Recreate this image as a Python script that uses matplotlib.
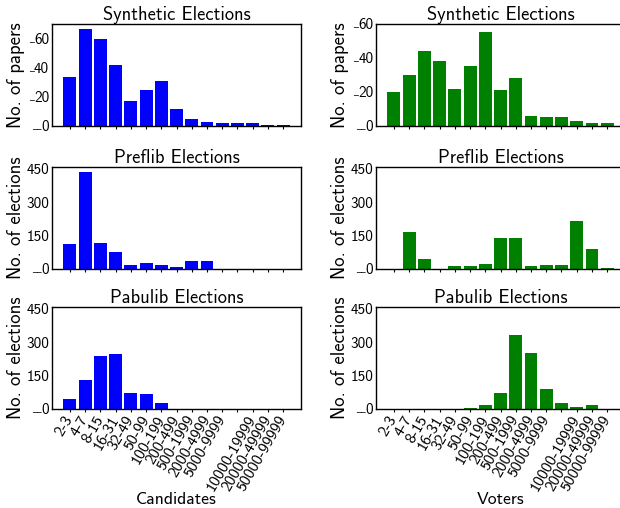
import matplotlib
matplotlib.use("Agg")
import matplotlib.pyplot as plt
import numpy as np

plt.rcParams['font.family'] = ['cmss10', 'DejaVu Sans']
plt.rcParams['axes.formatter.use_mathtext'] = True
plt.rcParams['axes.unicode_minus'] = False

# bin labels (one tick has no label in the original)
bins = ["2-3", "4-7", "8-15", "16-31", "32-49", "50-99", "100-199", "200-499",
        "500-1999", "2000-4999", "5000-9999", "", "10000-19999", "20000-49999",
        "50000-99999"]

# candidates (left column)
synth_cand = [34, 67, 60, 42, 17, 25, 31, 12, 5, 3, 2, 2, 2, 1, 1]
preflib_cand = [113, 436, 118, 78, 19, 28, 19, 9, 37, 37, 0, 0, 0, 0, 0]
pabulib_cand = [46, 132, 240, 249, 73, 69, 28, 0, 0, 0, 0, 0, 0, 0, 0]

# voters (right column)
synth_vot = [20, 30, 44, 38, 22, 35, 55, 21, 28, 6, 5, 5, 3, 2, 2]
preflib_vot = [0, 168, 45, 0, 15, 15, 23, 137, 137, 15, 19, 19, 216, 89, 6]
pabulib_vot = [0, 0, 0, 0, 0, 6, 19, 73, 334, 253, 91, 28, 10, 19, 0]

syn_ticks = [0, 20, 40, 60]
el_ticks = [0, 150, 300, 450]

TICK_FS = 11
fig = plt.figure(figsize=(6.2, 5.08), dpi=100)

left_x, right_x, w = 0.0839, 0.6065, 0.4016
rows_y = [0.752, 0.4705, 0.1949]
h = 0.2008

panels = [
    (left_x, rows_y[0], synth_cand, "blue", "Synthetic Elections", "No. of papers"),
    (right_x, rows_y[0], synth_vot, "green", "Synthetic Elections", "No. of papers"),
    (left_x, rows_y[1], preflib_cand, "blue", "Preflib Elections", "No. of elections"),
    (right_x, rows_y[1], preflib_vot, "green", "Preflib Elections", "No. of elections"),
    (left_x, rows_y[2], pabulib_cand, "blue", "Pabulib Elections", "No. of elections"),
    (right_x, rows_y[2], pabulib_vot, "green", "Pabulib Elections", "No. of elections"),
]

for i, (x0, y0, vals, col, title, ylab) in enumerate(panels):
    ax = fig.add_axes([x0, y0, w, h])
    pos = np.arange(len(vals))
    ax.bar(pos, vals, width=0.85, color=col)
    ax.set_title(title, fontsize=13.3, pad=3)
    ax.set_ylabel(ylab, fontsize=13.5)
    ticks = syn_ticks if i < 2 else el_ticks
    ax.set_yticks(ticks)
    ax.set_yticklabels([str(t) for t in ticks])
    if i == 1:
        ax.set_ylim(0, 60)
    elif i >= 2:
        ax.set_ylim(0, 458)
    ax.yaxis.set_label_coords(-0.11, 0.5)
    ax.tick_params(axis='y', length=0, pad=2, labelsize=TICK_FS)
    ax.tick_params(axis='x', length=2, width=0.8, labelsize=11.5)

    # labels shorter than three digits are padded with a low line
    # (cmss10 has no low line glyph, so it comes from DejaVu Sans)
    for t in ticks:
        n = len(str(t))
        if n < 3:
            ax.annotate("_" * (3 - n), xy=(0, t), xycoords=('axes fraction', 'data'),
                        xytext=(-(2 + n * 0.5 * TICK_FS), -1.6), textcoords='offset points',
                        ha='right', va='baseline', fontsize=TICK_FS * 0.62,
                        family='DejaVu Sans', annotation_clip=False)

    ax.set_xticks(pos)
    if i >= 4:
        ax.set_xticklabels(bins, rotation=60, ha='right', va='center',
                           rotation_mode='anchor')
        ax.set_xlabel("Candidates" if i == 4 else "Voters", fontsize=12.7)
        ax.xaxis.set_label_coords(0.5, -0.89)
        ax.xaxis.label.set_va('center')
    else:
        ax.set_xticklabels([])
    for s in ax.spines.values():
        s.set_linewidth(1.0)

fig.savefig("out.png", dpi=100)
